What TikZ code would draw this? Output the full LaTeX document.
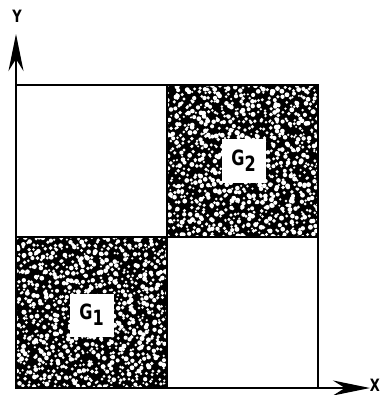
\documentclass[tikz,border=0pt]{standalone}
\usepackage{fontspec}
\setsansfont{DejaVu Sans Condensed}[FakeStretch=0.85]
\usetikzlibrary{arrows.meta}

\begin{document}
\begin{tikzpicture}[
    x=1pt, y=-1pt,
    every node/.style={font=\sffamily\bfseries},
    frame/.style={line width=2.9pt},
    axis/.style={line width=2.9pt, -{Stealth[length=37pt, width=15pt, inset=12pt]}},
    tag/.style={fill=white, minimum width=44pt, minimum height=43pt, inner sep=0pt, font=\sffamily\bfseries\fontsize{21}{21}\selectfont},
    axislabel/.style={inner sep=0pt, font=\sffamily\bfseries\fontsize{17}{17}\selectfont}
]
\useasboundingbox (0,0) rectangle (380,395);
\pgfmathsetseed{4217}
% speckled cells
\foreach \cx/\cy in {242.5/161.5, 91.5/312.5} {
  \begin{scope}
    \clip (\cx-76,\cy-76) rectangle (\cx+76,\cy+76);
    \fill[black] (\cx-76,\cy-76) rectangle (\cx+76,\cy+76);
    \foreach \i in {0,...,31}
      \foreach \j in {0,...,31}
        \fill[white] ({\cx-78+5*\i+2.6*rand},{\cy-78+5*\j+2.6*rand}) circle[radius={1.1pt+1.4pt*rnd}];
  \end{scope}
}
% cells and axes
\coordinate (origin) at (16,388);
\coordinate (ytip) at (16,34);
\coordinate (xtip) at (370,388);
\coordinate (corner) at (318,85);
\node[tag] (g2) at (243.5,161) {G\raisebox{-6pt}{2}};
\node[tag] (g1) at (91.5,315) {G\raisebox{-6pt}{1}};
\draw[frame] (origin) rectangle (corner);
\draw[frame] (167,85) -- (167,388);
\draw[frame] (16,237) -- (318,237);
\draw[axis] (origin) -- (ytip);
\draw[axis] (origin) -- (xtip);
\node[axislabel] (ylabel) at (17,16.5) {Y};
\node[axislabel] (xlabel) at (375,385) {X};
\end{tikzpicture}
\end{document}
